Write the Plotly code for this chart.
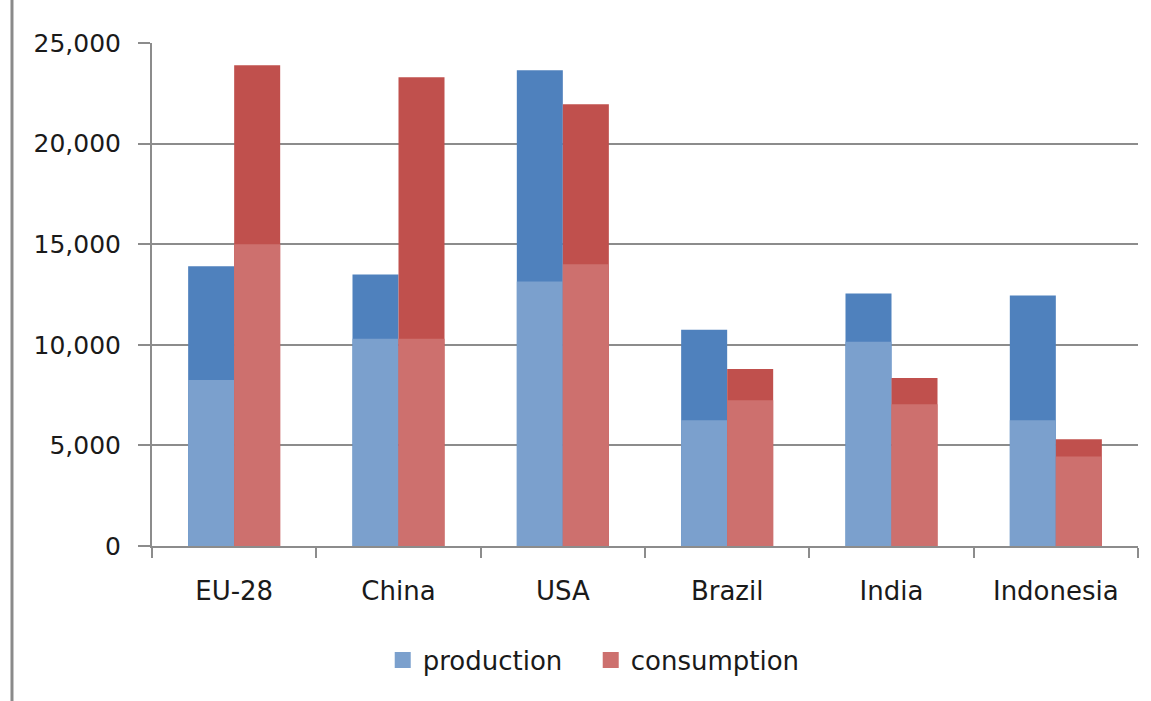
import plotly.graph_objects as go

categories = ["EU-28", "China", "USA", "Brazil", "India", "Indonesia"]
production_total = [13900, 13500, 23650, 10750, 12550, 12450]
production_base = [8250, 10300, 13150, 6250, 10150, 6250]
consumption_total = [23900, 23300, 21950, 8800, 8350, 5300]
consumption_base = [15000, 10300, 14000, 7250, 7050, 4450]
y_ticks = [0, 5000, 10000, 15000, 20000, 25000]
legend_names = ["production", "consumption"]

BLUE_DARK = "#4F81BD"
BLUE_LIGHT = "#7BA0CD"
RED_DARK = "#C0504D"
RED_LIGHT = "#CD706E"
GRID = "#8C8C8C"
FONT = "DejaVu Sans"

fig = go.Figure()
fig.add_trace(go.Bar(x=categories, y=production_total, offsetgroup="p",
                     marker=dict(color=BLUE_DARK, line=dict(width=0)),
                     showlegend=False, name="production"))
fig.add_trace(go.Bar(x=categories, y=production_base, offsetgroup="p",
                     marker=dict(color=BLUE_LIGHT, line=dict(width=0)),
                     showlegend=False, name="production"))
fig.add_trace(go.Bar(x=categories, y=consumption_total, offsetgroup="c",
                     marker=dict(color=RED_DARK, line=dict(width=0)),
                     showlegend=False, name="consumption"))
fig.add_trace(go.Bar(x=categories, y=consumption_base, offsetgroup="c",
                     marker=dict(color=RED_LIGHT, line=dict(width=0)),
                     showlegend=False, name="consumption"))

# legend-only entries with larger square swatches
for nm, col in zip(legend_names, [BLUE_LIGHT, RED_LIGHT]):
    fig.add_trace(go.Scatter(x=[None], y=[None], mode="markers", name=nm,
                             marker=dict(symbol="square", size=17, color=col),
                             showlegend=True))

fig.update_layout(
    width=1151, height=701,
    margin=dict(l=152, r=13, t=43, b=155),
    paper_bgcolor="white", plot_bgcolor="white",
    barmode="group", bargap=0.44, bargroupgap=0,
    font=dict(family=FONT, size=25, color="#1a1a1a"),
    legend=dict(orientation="h", x=0.234, xanchor="left", y=-0.227, yanchor="middle",
                font=dict(size=26), itemwidth=30, traceorder="normal",
                itemsizing="trace", entrywidth=163, entrywidthmode="pixels"),
    xaxis=dict(showline=True, linecolor=GRID, linewidth=2, ticks="outside",
               tickson="boundaries", ticklen=10, tickwidth=2, tickcolor=GRID,
               ticklabelstandoff=21, showgrid=False, tickfont=dict(size=26)),
    yaxis=dict(range=[0, 25000], tickvals=y_ticks, tickformat=",d",
               showline=True, linecolor=GRID, linewidth=2,
               ticks="outside", ticklen=12, tickwidth=2, tickcolor=GRID,
               showgrid=True, gridcolor=GRID, gridwidth=2, zeroline=False,
               ticklabelstandoff=12, tickfont=dict(size=25)),
    shapes=[dict(type="line", xref="paper", yref="paper", x0=-0.142, x1=-0.142,
                 y0=-0.31, y1=1.1, line=dict(color="#8A8A8A", width=3))],
)

fig.write_html("out.html")
